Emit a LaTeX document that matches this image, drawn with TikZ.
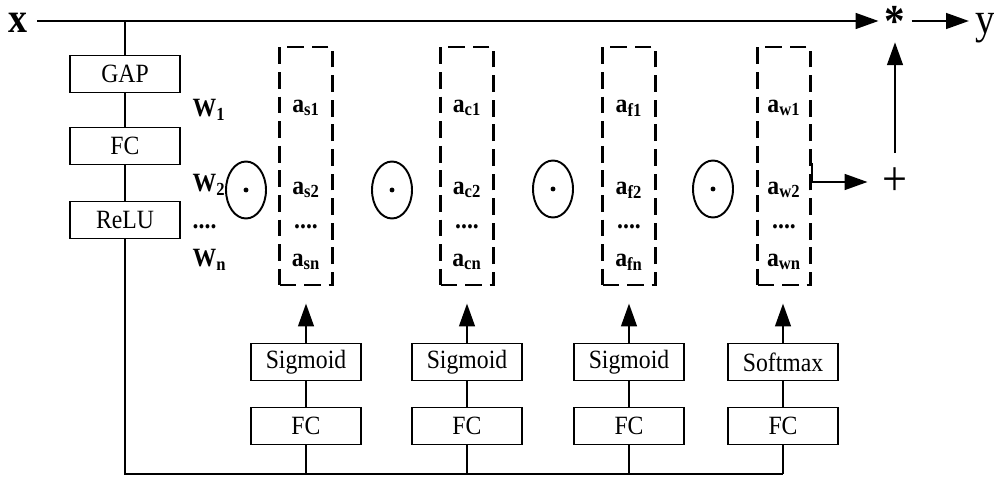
\documentclass[tikz,border=0pt]{standalone}
\usepackage{fontspec}
\setmainfont{Liberation Serif}[FakeStretch=0.9]
\usepackage{tikz}
\usetikzlibrary{shapes}
\usetikzlibrary {arrows.meta}

\begin{document}
\begin{tikzpicture}[x=0.02cm,y=-0.02cm,line width=1.1pt,
  box/.style={rectangle,draw,line width=0.9pt,minimum width=2.2cm,minimum height=0.74cm,inner sep=0pt,font=\fontsize{15}{17}\selectfont},
  dbox/.style={rectangle,draw,line width=1.2pt,dash pattern=on 9.5pt off 4.5pt,minimum width=1.06cm,minimum height=4.76cm},
  op/.style={ellipse,draw,line width=1.1pt,minimum width=0.8cm,minimum height=1.14cm,inner sep=0pt},
  lab/.style={font=\fontsize{15}{17}\selectfont\bfseries,inner sep=1pt},
  arr/.style={-{Triangle[length=13pt,width=9pt]}}]

\useasboundingbox (0,0) rectangle (994,479);

\node[font=\fontsize{24}{26}\selectfont\bfseries,inner sep=5pt] (x) at (18,23) {x};
\node[font=\fontsize{26}{28}\selectfont\bfseries,inner sep=3pt] (star) at (895,21) {*};
\node[font=\fontsize{25}{27}\selectfont,inner sep=3pt] (y) at (985,28) {y};
\node[font=\fontsize{28}{30}\selectfont,inner sep=8pt] (plus) at (895,182) {+};

\draw[arr] (x.east |- star) -- (star);
\draw[arr] (star) -- (star -| y.west);
\draw[arr] (plus) -- (star);

\node[box] (gap) at (125,74) {GAP};
\node[box] (fc) at (125,146) {FC};
\node[box] (relu) at (125,220) {ReLU};
\coordinate (bot) at (783,474);
\draw (gap |- star) -- (gap) -- (fc) -- (relu) |- (bot);

\node[lab,anchor=west] (w1) at (190,110) {W\textsubscript{1}};
\node[lab,anchor=west] (w2) at (190,185) {W\textsubscript{2}};
\node[lab,anchor=west] (wd) at (190,227) {....};
\node[lab,anchor=west] (wn) at (190,260) {W\textsubscript{n}};

\node[op] (o1) at (246,190) {};
\node[op] (o2) at (392,190) {};
\node[op] (o3) at (553,189) {};
\node[op] (o4) at (713,189) {};
\fill (o1) circle (1.4pt);
\fill (o2) circle (1.4pt);
\fill (o3) circle (1.4pt);
\fill (o4) circle (1.4pt);

\node[dbox] (a1) at (306,166) {};
\node[dbox] (a2) at (467,166) {};
\node[dbox] (a3) at (629,166) {};
\node[dbox] (a4) at (784,166) {};

\node[lab] (s1) at (306,108) {a\textsubscript{s1}};
\node[lab] (s2) at (306,190) {a\textsubscript{s2}};
\node[lab] (sd) at (306,227) {....};
\node[lab] (sn) at (306,262) {a\textsubscript{sn}};

\node[lab] (c1) at (467,108) {a\textsubscript{c1}};
\node[lab] (c2) at (467,190) {a\textsubscript{c2}};
\node[lab] (cd) at (467,227) {....};
\node[lab] (cn) at (467,262) {a\textsubscript{cn}};

\node[lab] (f1) at (629,108) {a\textsubscript{f1}};
\node[lab] (f2) at (629,190) {a\textsubscript{f2}};
\node[lab] (fd) at (629,227) {....};
\node[lab] (fn) at (629,262) {a\textsubscript{fn}};

\node[lab] (v1) at (784,108) {a\textsubscript{w1}};
\node[lab] (v2) at (784,190) {a\textsubscript{w2}};
\node[lab] (vd) at (784,227) {....};
\node[lab] (vn) at (784,262) {a\textsubscript{wn}};

\draw[arr] ([yshift=0.06cm]a4.east) |- (plus);

\node[box] (fc1) at (306,426) {FC};
\node[box] (fc2) at (467,426) {FC};
\node[box] (fc3) at (629,426) {FC};
\node[box] (fc4) at (783,426) {FC};
\node[box] (sg1) at (306,362) {Sigmoid};
\node[box] (sg2) at (467,362) {Sigmoid};
\node[box] (sg3) at (629,362) {Sigmoid};
\node[box] (sm) at (783,362) {Softmax};

\draw (fc1 |- bot) -- (fc1) -- (sg1);
\draw (fc2 |- bot) -- (fc2) -- (sg2);
\draw (fc3 |- bot) -- (fc3) -- (sg3);
\draw (bot) -- (fc4) -- (sm);

\draw[arr,shorten >=10pt] (sg1) -- (a1);
\draw[arr,shorten >=10pt] (sg2) -- (a2);
\draw[arr,shorten >=10pt] (sg3) -- (a3);
\draw[arr,shorten >=10pt] (sm) -- (sm |- a4.south);

\end{tikzpicture}
\end{document}
